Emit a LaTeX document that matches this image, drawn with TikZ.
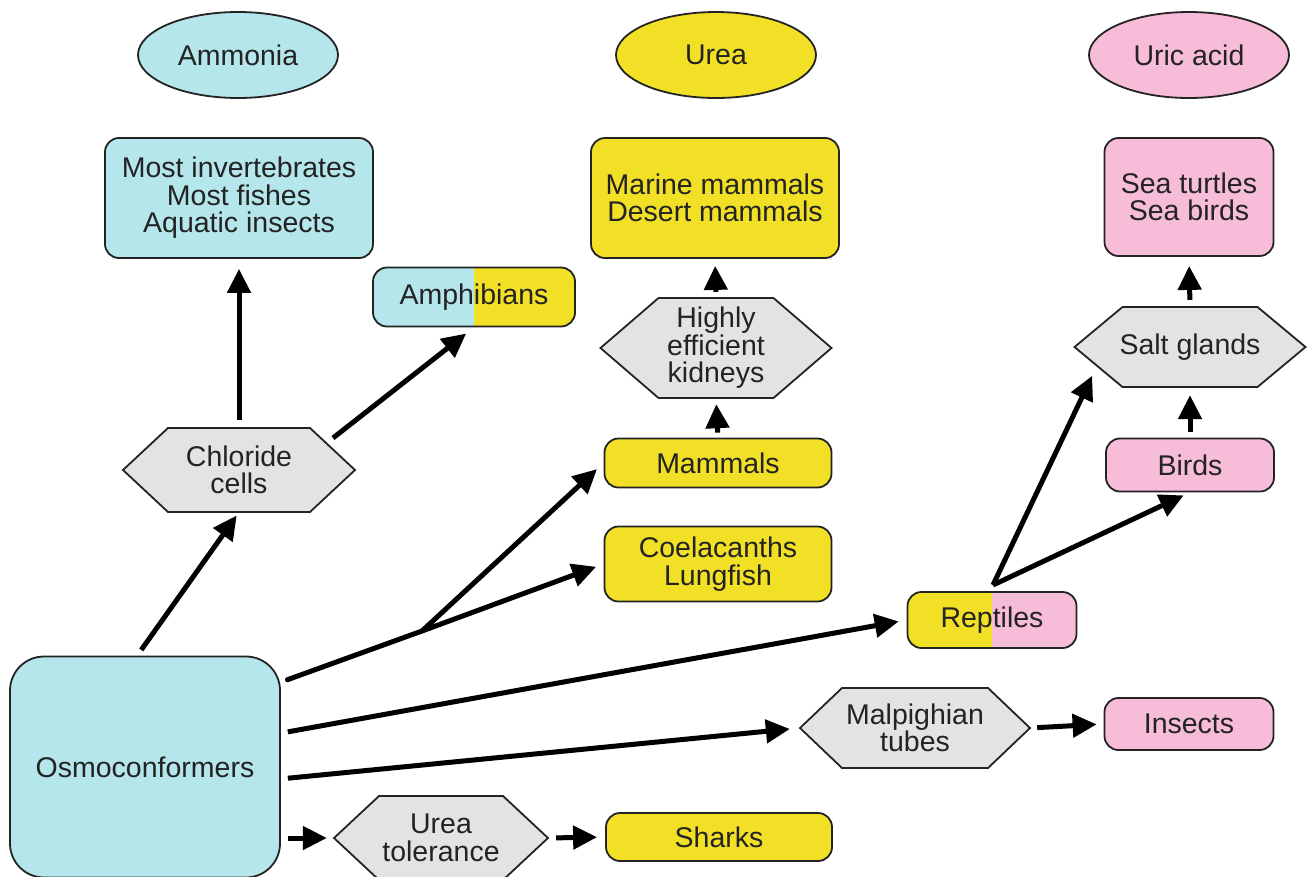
\documentclass[tikz,border=0pt]{standalone}
\usepackage{fontspec}
\setmainfont{Liberation Sans}
\usetikzlibrary{shapes.geometric,arrows.meta}

\definecolor{ammc}{RGB}{180,230,235}
\definecolor{ureac}{RGB}{242,224,38}
\definecolor{uricc}{RGB}{247,188,216}
\definecolor{cellc}{RGB}{227,227,227}
\definecolor{inkc}{RGB}{35,35,35}

\tikzset{
  box/.style={draw=inkc,line width=1.8pt,rounded corners=14pt,inner sep=0pt,align=center,text=inkc},
  waste/.style={ellipse,draw=inkc,line width=1.8pt,minimum width=200pt,minimum height=86pt,inner sep=0pt,text=inkc},
  organ/.style={draw=inkc,line width=1.8pt,fill=cellc,line join=miter},
  cell/.style={inner sep=0pt,align=center,text=inkc},
  arr/.style={line width=5pt,-{Triangle[length=24pt,width=23pt]}},
  split/.style 2 args={path picture={
    \fill[#1,sharp corners] (path picture bounding box.south west) rectangle (path picture bounding box.north);
    \fill[#2,sharp corners] (path picture bounding box.north) rectangle (path picture bounding box.south east);}}
}

% hexagon: name, x, y, width, height, point depth, text
\newcommand{\hexcell}[7]{%
  \filldraw[organ] (#2-#4/2,#3) -- (#2-#4/2+#6,#3-#5/2) -- (#2+#4/2-#6,#3-#5/2)
    -- (#2+#4/2,#3) -- (#2+#4/2-#6,#3+#5/2) -- (#2-#4/2+#6,#3+#5/2) -- cycle;
  \node[cell,minimum width=#4pt,minimum height=#5pt] (#1) at (#2,#3) {#7};}

\begin{document}
\begin{tikzpicture}[x=1pt,y=-1pt,font=\fontsize{28.5}{27.5}\selectfont]
  \useasboundingbox (0,0) rectangle (1307,876);
  \clip (0,0) rectangle (1307,876);
  % waste products
  \foreach \n/\x/\c/\t in {amm/238/ammc/Ammonia,urea/716/ureac/Urea,uric/1189/uricc/Uric acid}
    \node[waste,fill=\c] (\n) at (\x,55) {\t};
  % groups
  \node[box,fill=ammc,minimum width=268pt,minimum height=120pt] (inv) at (239,198) {Most invertebrates\\Most fishes\\Aquatic insects};
  \node[box,fill=ureac,minimum width=248pt,minimum height=120pt] (marine) at (715,198) {Marine mammals\\Desert mammals};
  \node[box,fill=uricc,minimum width=169pt,minimum height=118pt] (seat) at (1189,197) {Sea turtles\\Sea birds};
  \node[box,split={ammc}{ureac},minimum width=202pt,minimum height=59pt] (amph) at (474,297) {Amphibians};
  \node[box,fill=ureac,minimum width=227pt,minimum height=49pt] (mam) at (718,463) {Mammals};
  \node[box,fill=ureac,minimum width=227pt,minimum height=75pt] (coel) at (718,564) {Coelacanths\\Lungfish};
  \node[box,fill=uricc,minimum width=168pt,minimum height=53pt] (birds) at (1190,465) {Birds};
  \node[box,split={ureac}{uricc},minimum width=169pt,minimum height=56pt] (rep) at (992,620) {Reptiles};
  \node[box,fill=uricc,minimum width=169pt,minimum height=52pt] (ins) at (1189,724) {Insects};
  \node[box,fill=ureac,minimum width=226pt,minimum height=48pt] (sharks) at (719,837) {Sharks};
  \node[box,fill=ammc,rounded corners=34pt,minimum width=270pt,minimum height=221pt] (osmo) at (145,767) {Osmoconformers};
  % adaptations
  \hexcell{chl}{239}{470}{232}{84}{45}{Chloride\\cells}
  \hexcell{kid}{716}{348}{231}{100}{58}{Highly\\efficient\\kidneys}
  \hexcell{salt}{1190}{347}{231}{80}{48}{Salt glands}
  \hexcell{malp}{915}{728}{230}{80}{42}{Malpighian\\tubes}
  \hexcell{tol}{441}{838}{214}{84}{45}{Urea\\tolerance}
  % arrows
  \coordinate (br1) at (422,631);
  \coordinate (br2) at (993,585);
  \draw[arr,shorten <=7pt,shorten >=4pt] (osmo.94) -- (chl.south);
  \draw[arr,shorten <=8pt,shorten >=10pt] (chl.north) -- (inv.south);
  \draw[arr,shorten >=10pt] ([shift={(94,-32)}]chl.center) -- (amph.south);
  \draw[line width=5pt,line cap=round,shorten <=7pt] (osmo.32) -- (br1);
  \draw[arr,shorten >=9pt] (br1) -- (mam.west);
  \draw[arr,shorten >=8pt] (br1) -- (coel.west);
  \draw[arr,shorten <=7pt,shorten >=8pt] (osmo.14) -- (rep.west);
  \draw[arr,shorten <=7pt,shorten >=10pt] (osmo.355) -- (malp.west);
  \draw[arr,shorten <=7pt,shorten >=7pt] (osmo.east |- tol.west) -- (tol.west);
  \draw[arr,shorten <=8pt,shorten >=8pt] (tol.east) -- (sharks.west);
  \draw[arr,shorten <=7pt,shorten >=7pt] (malp.east) -- (ins.west);
  \draw[arr,shorten <=5pt,shorten >=6pt] (mam.north) -- (kid.south);
  \draw[arr,shorten <=6pt,shorten >=7pt] (kid.north) -- (marine.south);
  \draw[arr,shorten >=2pt] (br2) -- ([shift={(-97,27)}]salt.center);
  \draw[arr,shorten >=7pt] (br2) -- (birds.south);
  \draw[arr,shorten <=6pt,shorten >=8pt] (birds.north) -- (salt.south);
  \draw[arr,shorten <=7pt,shorten >=9pt] (salt.north) -- (seat.south);
\end{tikzpicture}
\end{document}
